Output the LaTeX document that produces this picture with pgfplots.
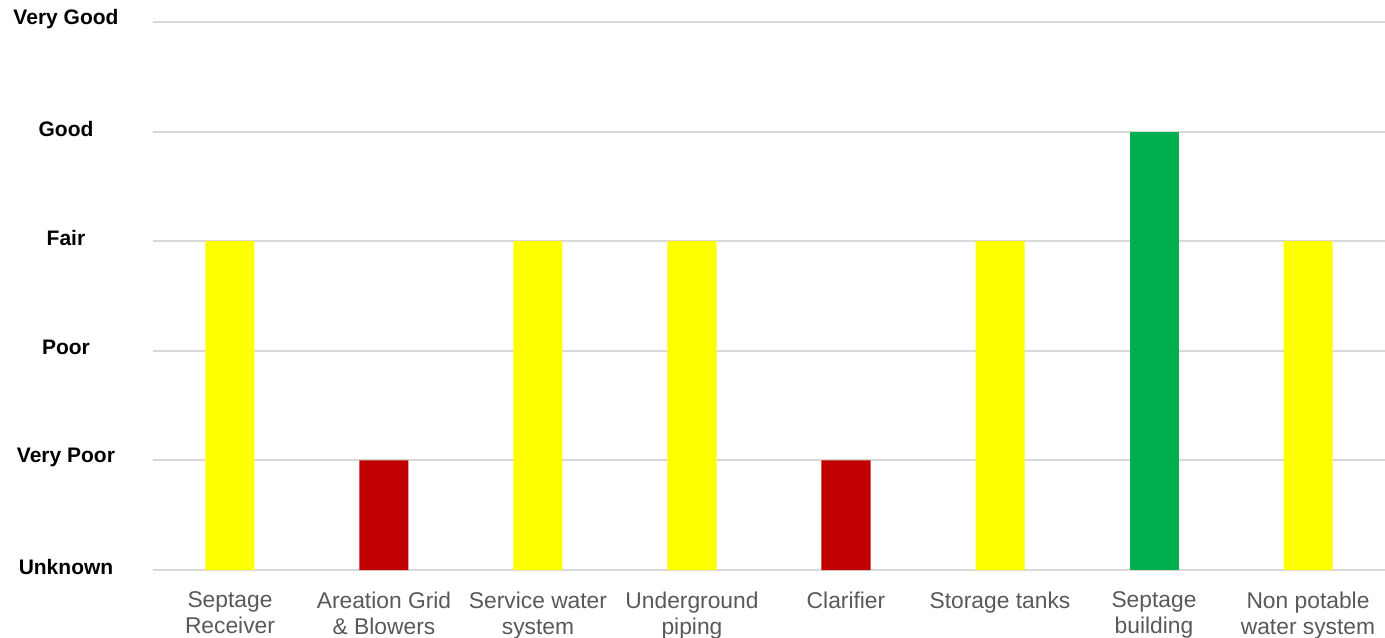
\documentclass[border=0pt]{standalone}
\usepackage{pgfplots}
\pgfplotsset{compat=1.18}
\usepackage{fontspec}
\setmainfont{Liberation Sans}
\definecolor{barY}{HTML}{FFFF00}
\definecolor{barR}{HTML}{C00000}
\definecolor{barG}{HTML}{00B050}
\definecolor{gridc}{HTML}{D9D9D9}
\definecolor{labc}{HTML}{595959}
\begin{document}
\begin{tikzpicture}
\begin{axis}[
  at={(0,0)}, anchor=south west,
  scale only axis, width=616pt, height=274pt,
  xmin=-0.5, xmax=7.5, ymin=0, ymax=5,
  axis line style={draw=none},
  ymajorgrids, major grid style={gridc, line width=1pt},
  major tick length=0pt,
  xtick={0,...,7},
  xticklabels={{Septage\\Receiver},{Areation Grid\\\& Blowers},{Service water\\system},{Underground\\piping},{Clarifier},{Storage tanks},{Septage\\building},{Non potable\\water system}},
  ytick={0,...,5},
  yticklabels={Unknown,Very Poor,Poor,Fair,Good,Very Good},
  yticklabel style={anchor=center, xshift=-43.5pt, yshift=1.5pt, font=\fontsize{10.5}{12}\selectfont\bfseries, text=black},
  xticklabel style={align=center, yshift=-7.5pt, font=\fontsize{11.4}{13}\selectfont, text=labc},
]
\addplot[ybar, bar width=24.5pt, bar shift=0pt, fill=barY, draw=none] coordinates {(0,3) (2,3) (3,3) (5,3) (7,3)};
\addplot[ybar, bar width=24.5pt, bar shift=0pt, fill=barR, draw=none] coordinates {(1,1) (4,1)};
\addplot[ybar, bar width=24.5pt, bar shift=0pt, fill=barG, draw=none] coordinates {(6,4)};
\end{axis}
\pgfresetboundingbox
\path[use as bounding box] (-76.5pt,-33.5pt) rectangle (616pt,285pt);
\end{tikzpicture}
\end{document}
